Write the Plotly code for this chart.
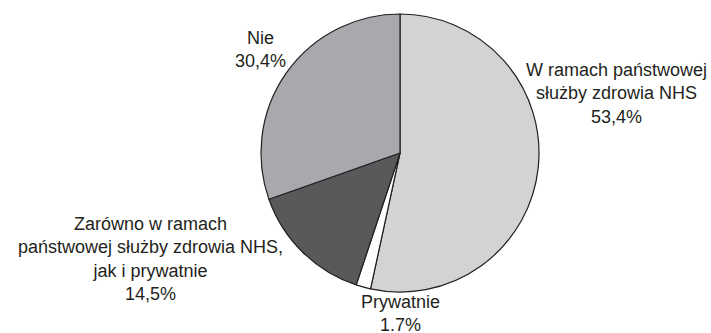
import plotly.graph_objects as go

labels = ["W ramach państwowej<br>służby zdrowia NHS", "Prywatnie",
          "Zarówno w ramach<br>państwowej służby zdrowia NHS,<br>jak i prywatnie", "Nie"]
values = [53.4, 1.7, 14.5, 30.4]
value_text = ["53,4%", "1.7%", "14,5%", "30,4%"]
colors = ["#d1d3d4", "#ffffff", "#58595b", "#a7a9ac"]

W, H = 711, 333
cx, cy, r = 400, 153, 139

fig = go.Figure(go.Pie(
    labels=labels, values=values, sort=False, direction="clockwise",
    rotation=0, textinfo="none", hoverinfo="label+percent",
    marker=dict(colors=colors, line=dict(color="#231f20", width=1.2)),
    domain=dict(x=[(cx - r) / W, (cx + r) / W], y=[1 - (cy + r) / H, 1 - (cy - r) / H]),
    showlegend=False,
))

# label anchor positions (pixel centres of the text blocks)
label_pos = [(616, 93), (400, 313), (150, 259), (260, 49)]
for lab, vt, (px, py) in zip(labels, value_text, label_pos):
    fig.add_annotation(
        x=px / W, y=1 - py / H, xref="paper", yref="paper",
        text=f"{lab}<br>{vt}", showarrow=False, align="center",
        xanchor="center", yanchor="middle",
        font=dict(family="Liberation Sans, Arial, sans-serif", size=18, color="#231f20"),
    )

fig.update_layout(
    width=W, height=H, margin=dict(l=0, r=0, t=0, b=0),
    paper_bgcolor="white", plot_bgcolor="white",
)
fig.write_html("out.html")
